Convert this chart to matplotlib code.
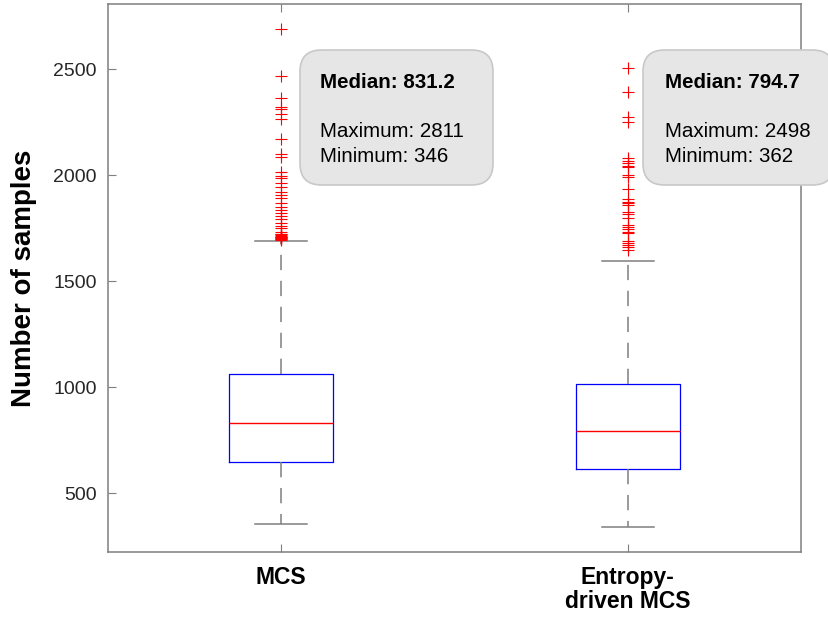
import matplotlib
matplotlib.use('Agg')
import matplotlib.pyplot as plt
from matplotlib.patches import FancyBboxPatch

plt.rcParams['font.family'] = ['Liberation Sans', 'DejaVu Sans']

# data
groups = ['MCS', 'Entropy-\ndriven MCS']
medians = [831.2, 794.7]
q1 = [645, 612]
q3 = [1063, 1014]
whisk_lo = [354, 341]
whisk_hi = [1689, 1596]
maximums = [2811, 2498]
minimums = [346, 362]

mcs_out = [2689, 2467, 2362, 2320, 2311, 2290, 2263, 2168, 2099, 2083, 2016,
           1995, 1987, 1964, 1945, 1921, 1906, 1890, 1867, 1850, 1835, 1819,
           1807, 1791, 1772, 1759, 1749, 1733, 1724, 1720, 1716, 1713, 1710,
           1708, 1706, 1704, 1702, 1700, 1698, 1695]
ent_out = [2503, 2393, 2273, 2252, 2079, 2068, 2058, 2042, 2036, 2000, 1989,
           1932, 1885, 1874, 1867, 1858, 1827, 1816, 1796, 1764, 1753, 1744,
           1733, 1725, 1690, 1681, 1670, 1659, 1646]
outliers = [mcs_out, ent_out]

yticks = [500, 1000, 1500, 2000, 2500]

stats = []
for i in range(len(groups)):
    stats.append(dict(med=medians[i], q1=q1[i], q3=q3[i],
                      whislo=whisk_lo[i], whishi=whisk_hi[i], fliers=outliers[i]))

W, H = 829, 621
fig = plt.figure(figsize=(W/100, H/100), dpi=100)
ax = fig.add_axes([108/W, (H-552)/H, 693/W, 548/H])

gray = '#7f7f7f'
ax.bxp(stats, positions=[1, 2], widths=0.3, capwidths=0.15, showfliers=True,
       boxprops=dict(color='blue', linewidth=0.9),
       medianprops=dict(color='#ff0000', linewidth=1.0, zorder=3),
       whiskerprops=dict(color=gray, linewidth=1.1, linestyle=(0, (10, 7))),
       capprops=dict(color=gray, linewidth=1.1),
       flierprops=dict(marker='+', markeredgecolor='red', markersize=8,
                       markeredgewidth=0.8, linestyle='none'))

ax.set_xlim(0.5, 2.5)
ax.set_ylim(222, 2807)
ax.set_yticks(yticks)
ax.set_xticks([1, 2])
ax.set_xticklabels(groups, fontsize=16.5, fontweight='bold', linespacing=1.05)
ax.tick_params(axis='x', direction='in', length=6, top=True, pad=10, color=gray)
ax.tick_params(axis='y', direction='in', length=6, labelsize=14, pad=8,
               color=gray, labelcolor='#262626')
for s in ax.spines.values():
    s.set_color(gray)
    s.set_linewidth(1.1)

ax.set_ylabel('Number of samples', fontsize=20, fontweight='bold', labelpad=12)

# summary boxes (pixel layout -> axes fractions)
def fx(px):
    return (px - 108) / 693

def fy(py):
    return (552 - py) / 548

box_left = [300, 643]
box_right = [493, 834]
text_left = [320, 665]
for i in range(len(groups)):
    patch = FancyBboxPatch((fx(box_left[i]), fy(185)),
                           fx(box_right[i]) - fx(box_left[i]), fy(50) - fy(185),
                           boxstyle='round,pad=0,rounding_size=0.031',
                           mutation_aspect=693/548, transform=ax.transAxes,
                           facecolor='#e6e6e6', edgecolor='#c8c8c8',
                           linewidth=1.2, clip_on=False, zorder=5)
    ax.add_patch(patch)
    ax.text(fx(text_left[i]), fy(88), 'Median: %.1f' % medians[i],
            transform=ax.transAxes, fontsize=14.8, fontweight='bold',
            va='baseline', ha='left', zorder=6)
    ax.text(fx(text_left[i]), fy(137), 'Maximum: %d' % maximums[i],
            transform=ax.transAxes, fontsize=14.8, va='baseline', ha='left',
            zorder=6)
    ax.text(fx(text_left[i]), fy(162), 'Minimum: %d' % minimums[i],
            transform=ax.transAxes, fontsize=14.8, va='baseline', ha='left',
            zorder=6)

fig.savefig('out.png', dpi=100)
